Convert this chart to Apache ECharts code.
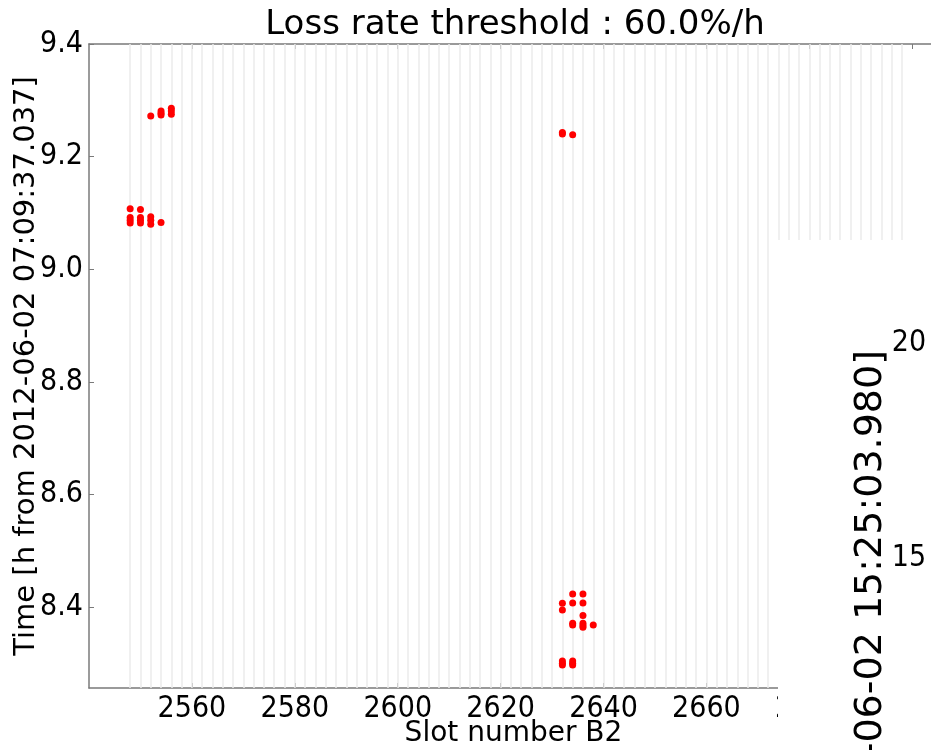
<!DOCTYPE html>
<html>
<head>
<meta charset="utf-8">
<title>Loss rate threshold</title>
<script src="https://cdn.jsdelivr.net/npm/echarts@6/dist/echarts.min.js"></script>
<style>
  html, body { margin: 0; padding: 0; background: #fff; }
  #main { width: 931px; height: 750px; }
</style>
</head>
<body>
<div id="main"></div>
<script>
// points: slot number B2 / time in h from 2012-06-02 07:09:37.037
var pointSlots = [
  2548, 2548, 2548, 2548,
  2550, 2550, 2550, 2550,
  2552, 2552, 2552,
  2554,
  2552,
  2554, 2554, 2554,
  2556, 2556, 2556,
  2632, 2632,
  2634,
  2632, 2632, 2632, 2632, 2632,
  2634, 2634, 2634, 2634, 2634, 2634, 2634,
  2636, 2636, 2636, 2636, 2636, 2636,
  2638
];
var pointTimes = [
  9.1075, 9.092, 9.087, 9.082,
  9.106, 9.092, 9.087, 9.082,
  9.093, 9.087, 9.080,
  9.083,
  9.272,
  9.281, 9.277, 9.274,
  9.286, 9.281, 9.275,
  9.243, 9.240,
  9.239,
  8.4066, 8.3947, 8.304, 8.300, 8.297,
  8.423, 8.407, 8.371, 8.368, 8.304, 8.300, 8.297,
  8.423, 8.407, 8.385, 8.371, 8.367, 8.364,
  8.368
];

// filled slots (light vertical lines)
var filledSlots = [
  2548, 2550, 2552, 2554, 2556, 2558, 2560, 2562, 2564, 2566,
  2568, 2570, 2572, 2574, 2576, 2578, 2580, 2582, 2584, 2586,
  2588, 2590, 2592, 2594, 2596, 2598, 2600, 2602, 2604, 2606,
  2608, 2610, 2612, 2614, 2616, 2618, 2620, 2622, 2624, 2626,
  2628, 2630, 2632, 2634, 2636, 2638, 2640, 2642, 2644, 2646,
  2648, 2650, 2652, 2654, 2656, 2658, 2660, 2662, 2664, 2666,
  2668, 2670, 2672, 2674, 2676, 2678, 2680, 2682, 2684, 2686,
  2688, 2690, 2692, 2694, 2696, 2698
];

var xTicks = [2560, 2580, 2600, 2620, 2640, 2660, 2680, 2700];
var yTicks = [8.4, 8.6, 8.8, 9.0, 9.2, 9.4];
// tick labels of the second (overlapping) figure
var otherTickLabels = ['20', '15'];

var tickFont = "'DejaVu Sans Condensed', 'DejaVu Sans', sans-serif";
var spineColor = '#7a7a7a';

var chartDom = document.getElementById('main');
var myChart = echarts.init(chartDom, null, { renderer: 'canvas' });

var points = [];
for (var i = 0; i < pointSlots.length; i++) {
  points.push([pointSlots[i], pointTimes[i]]);
}

var baseXAxis = {
  type: 'value',
  min: 2540,
  max: 2705,
  splitLine: { show: false },
  axisLine: { show: true, lineStyle: { color: spineColor, width: 1.5 } },
  axisTick: {
    show: true, inside: true, length: 5, customValues: xTicks,
    lineStyle: { color: spineColor, width: 1 }
  }
};

var option = {
  animation: false,
  backgroundColor: '#fff',
  title: {
    text: 'Loss rate threshold : 60.0%/h',
    left: 510,
    textAlign: 'center',
    top: 3,
    textStyle: { fontFamily: 'DejaVu Sans', fontSize: 34, fontWeight: 'normal', color: '#000' }
  },
  grid: {
    left: 89, top: 44, right: -7, bottom: 62,
    outerBoundsMode: 'none',
    containLabel: false
  },
  xAxis: [
    Object.assign({}, baseXAxis, {
      position: 'bottom',
      name: 'Slot number B2',
      nameLocation: 'middle',
      nameGap: 32,
      nameMoveOverlap: false,
      nameTextStyle: { fontFamily: 'DejaVu Sans', fontSize: 28, color: '#000', verticalAlign: 'top' },
      axisLabel: {
        show: true, customValues: xTicks, margin: 6,
        fontFamily: tickFont, fontSize: 30, color: '#000',
        formatter: function (v) { return String(v); }
      }
    }),
    Object.assign({}, baseXAxis, {
      position: 'top',
      axisLabel: { show: false }
    })
  ],
  yAxis: {
    type: 'value',
    min: 8.256,
    max: 9.4,
    splitLine: { show: false },
    axisLine: { show: true, lineStyle: { color: spineColor, width: 1.5 } },
    axisTick: {
      show: true, inside: true, length: 5, customValues: yTicks,
      lineStyle: { color: spineColor, width: 1 }
    },
    axisLabel: {
      show: true, customValues: yTicks, margin: 6,
      fontFamily: tickFont, fontSize: 30, color: '#000',
      formatter: function (v) { return v.toFixed(1); }
    },
    name: 'Time [h from 2012-06-02 07:09:37.037]',
    nameLocation: 'middle',
    nameGap: 48,
    nameMoveOverlap: false,
    nameTextStyle: { fontFamily: 'DejaVu Sans', fontSize: 29, color: '#000' }
  },
  series: [
    {
      // vertical lines for every filled slot
      type: 'line',
      data: [],
      z: 1,
      silent: true,
      markLine: {
        z: 1,
        silent: true,
        symbol: ['none', 'none'],
        label: { show: false },
        lineStyle: { color: '#ebebeb', width: 1.5, type: 'solid' },
        data: filledSlots.map(function (s) { return { xAxis: s }; })
      }
    },
    {
      type: 'scatter',
      z: 10,
      symbol: 'circle',
      symbolSize: 7,
      itemStyle: { color: '#ff0000', opacity: 1, borderWidth: 0 },
      emphasis: { disabled: true },
      data: points
    }
  ],
  graphic: [
    // corner of an overlapping second figure
    {
      type: 'rect',
      z: 100,
      shape: { x: 778, y: 240, width: 170, height: 520 },
      style: { fill: '#fff' }
    },
    {
      type: 'text',
      z: 101,
      x: 871, y: 350,
      rotation: Math.PI / 2,
      style: {
        text: 'Time [h from 2012-06-02 15:25:03.980]',
        font: "38px 'DejaVu Sans', sans-serif",
        fill: '#000',
        align: 'right',
        verticalAlign: 'middle'
      }
    },
    {
      type: 'text',
      z: 101,
      x: 909, y: 343,
      style: {
        text: otherTickLabels[0],
        font: "30px 'DejaVu Sans Condensed', 'DejaVu Sans', sans-serif",
        fill: '#000', align: 'center', verticalAlign: 'middle'
      }
    },
    {
      type: 'text',
      z: 101,
      x: 909, y: 558,
      style: {
        text: otherTickLabels[1],
        font: "30px 'DejaVu Sans Condensed', 'DejaVu Sans', sans-serif",
        fill: '#000', align: 'center', verticalAlign: 'middle'
      }
    }
  ]
};

option && myChart.setOption(option);
</script>
</body>
</html>
